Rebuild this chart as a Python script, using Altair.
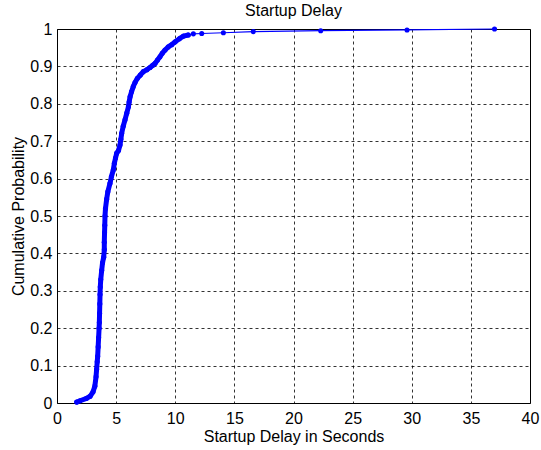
import altair as alt
import pandas as pd

# Empirical CDF of startup delay (seconds, cumulative probability)
delay_s = [
    1.67, 1.95, 2.5, 2.8, 3.05, 3.2, 3.3, 3.35, 3.4, 3.44, 3.48, 3.52, 3.56,
    3.58, 3.6, 3.62, 3.64, 3.66, 3.7, 3.78, 3.85, 3.95, 4.0, 4.0, 4.02, 4.04,
    4.06, 4.1, 4.2, 4.3, 4.48, 4.6, 4.76, 4.85, 4.95, 5.05, 5.2, 5.33, 5.4,
    5.47, 5.6, 5.75, 5.9, 6.04, 6.1, 6.18, 6.3, 6.45, 6.6, 6.8, 7.05, 7.3,
    7.6, 7.87, 8.1, 8.29, 8.5, 8.71, 8.9, 9.14, 9.4, 9.7, 10.0, 10.35, 10.7,
    11.1, 11.53, 12.24, 14.07, 16.6, 22.3, 29.6, 37.0,
]
cum_prob = [
    0.0025, 0.006, 0.0125, 0.018, 0.03, 0.045, 0.07, 0.09, 0.11, 0.125, 0.15,
    0.175, 0.2, 0.215, 0.24, 0.265, 0.29, 0.31, 0.33, 0.355, 0.375, 0.39,
    0.41, 0.43, 0.455, 0.475, 0.5, 0.52, 0.545, 0.565, 0.587, 0.605, 0.623,
    0.641, 0.655, 0.668, 0.675, 0.69, 0.705, 0.721, 0.74, 0.757, 0.775,
    0.792, 0.805, 0.819, 0.832, 0.846, 0.857, 0.868, 0.877, 0.886, 0.891,
    0.897, 0.903, 0.908, 0.917, 0.926, 0.935, 0.944, 0.952, 0.958, 0.966,
    0.974, 0.981, 0.984, 0.987, 0.988, 0.99, 0.993, 0.9955, 0.9975, 1.0,
]

x_ticks = [0, 5, 10, 15, 20, 25, 30, 35, 40]
y_ticks = [0, 0.1, 0.2, 0.3, 0.4, 0.5, 0.6, 0.7, 0.8, 0.9, 1]

df = pd.DataFrame({"delay": delay_s, "prob": cum_prob, "order": range(len(delay_s))})

FONT = "Liberation Sans"
FS = 16
BLUE = "#0000ff"

x_enc = alt.X(
    "delay:Q",
    scale=alt.Scale(domain=[0, 40], nice=False),
    axis=alt.Axis(
        values=x_ticks, title="Startup Delay in Seconds", labelFlush=False,
        labelPadding=7, titlePadding=2, format="~g",
    ),
)
y_enc = alt.Y(
    "prob:Q",
    scale=alt.Scale(domain=[0, 1], nice=False),
    axis=alt.Axis(
        values=y_ticks, title="Cumulative Probability", labelFlush=False,
        labelPadding=5, titlePadding=3, format="~g",
    ),
)

base = alt.Chart(df)

# thin connecting line across the whole CDF
line = base.mark_line(color=BLUE, strokeWidth=1.2).encode(
    x=x_enc, y=y_enc, order="order:Q"
)
# densely sampled body of the distribution reads as a heavy trace
body = (
    base.transform_filter(alt.datum.prob <= 0.985)
    .mark_line(color=BLUE, strokeWidth=5, strokeCap="round", strokeJoin="round")
    .encode(x=x_enc, y=y_enc, order="order:Q")
)
dots = base.mark_circle(color=BLUE, size=26, opacity=1).encode(x=x_enc, y=y_enc)

chart = (
    alt.layer(line, body, dots)
    .properties(
        width=473,
        height=374,
        title=alt.TitleParams(
            "Startup Delay", font=FONT, fontSize=FS, fontWeight="normal",
            color="black", offset=2,
        ),
        autosize=alt.AutoSizeParams(type="none"),
        padding={"left": 57, "top": 29, "right": 11, "bottom": 47},
    )
    .configure(background="white")
    .configure_view(stroke="black", strokeWidth=1)
    .configure_axis(
        grid=True,
        gridColor="black",
        gridDash=[3, 3],
        gridOpacity=0.8,
        gridWidth=1,
        domain=False,
        ticks=False,
        labelFont=FONT,
        labelFontSize=FS,
        labelColor="black",
        titleFont=FONT,
        titleFontSize=FS,
        titleFontWeight="normal",
        titleColor="black",
    )
)

chart.save("out.html", embed_options={"renderer": "svg", "actions": False})
